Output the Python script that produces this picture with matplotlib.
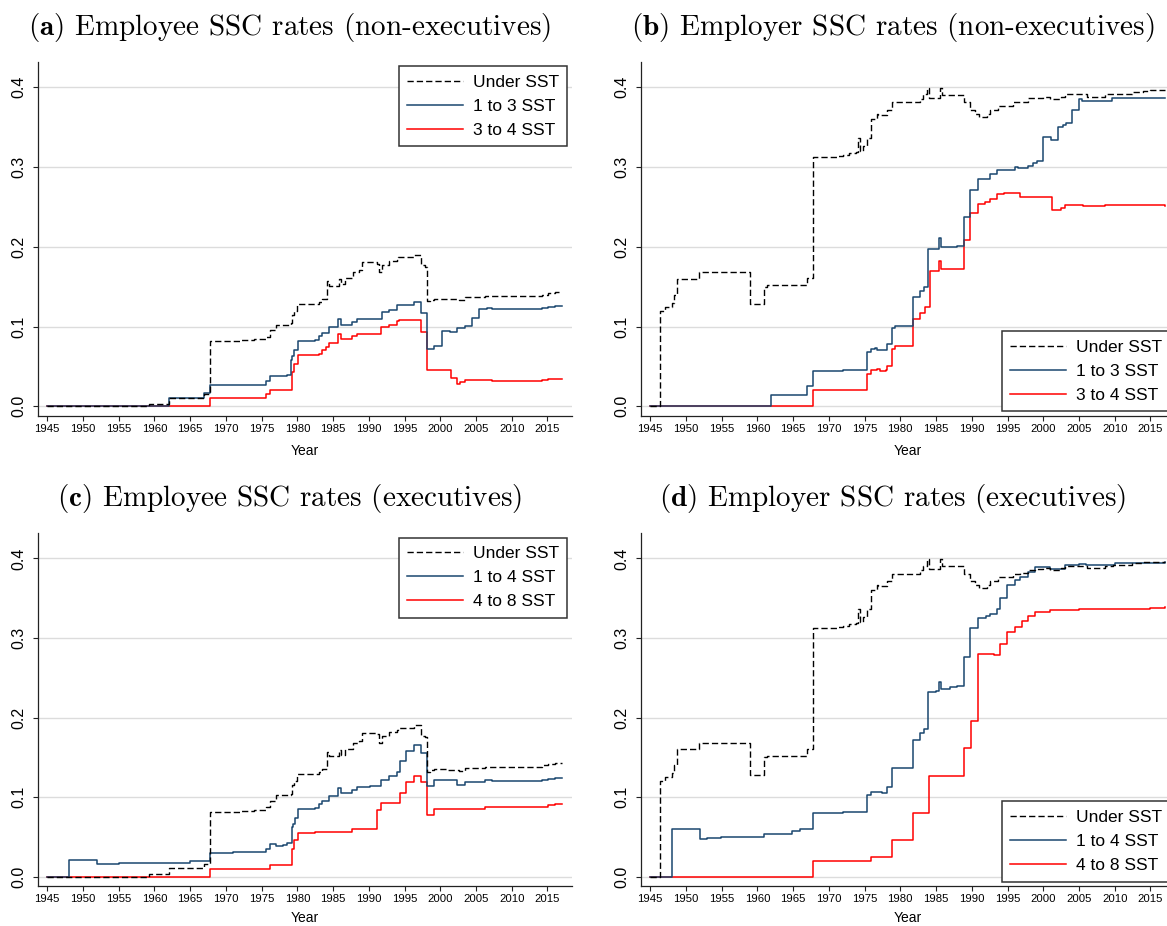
import matplotlib
matplotlib.use("Agg")
from matplotlib import pyplot as plt

plt.rcParams['font.family'] = ['Liberation Sans', 'DejaVu Sans']
plt.rcParams['mathtext.fontset'] = 'cm'

# ---- data (step changes by year) ----
# employee rate, under the social security threshold (same in a and c)
ee_under_years = [1945, 1959.3, 1962.1, 1966.9, 1967.8, 1972.0, 1974.0, 1975.6, 1976.2, 1977.0,
                  1979.1, 1979.3, 1979.6, 1979.9, 1983.0, 1983.5, 1984.1, 1984.4, 1985.8, 1986.1,
                  1986.6, 1987.8, 1988.6, 1989.1, 1991.2, 1991.4, 1991.9, 1992.8, 1993.9, 1994.1,
                  1996.3, 1997.3, 1997.8, 1998.2, 1998.6, 1999.1, 2001.0, 2002.6, 2003.4, 2006.3,
                  2014.2, 2015.1, 2016.0, 2017.0]
ee_under_vals = [0.0, 0.003, 0.0104, 0.0155, 0.0818, 0.083, 0.084, 0.087, 0.095, 0.102,
                 0.104, 0.115, 0.12, 0.1286, 0.131, 0.135, 0.1566, 0.151, 0.1595, 0.153,
                 0.161, 0.168, 0.171, 0.181, 0.179, 0.168, 0.177, 0.182, 0.184, 0.187,
                 0.19, 0.177, 0.175, 0.1315, 0.1336, 0.135, 0.134, 0.133, 0.137, 0.138,
                 0.14, 0.142, 0.143, 0.143]

# employer rate, under the threshold (same in b and d)
er_under_years = [1945, 1946.4, 1947.1, 1948.0, 1948.3, 1948.8, 1951.8, 1958.9, 1960.9, 1961.3,
                  1967.0, 1967.8, 1971.1, 1972.0, 1972.8, 1973.8, 1974.1, 1974.3, 1974.8, 1975.4,
                  1975.9, 1976.7, 1976.9, 1978.2, 1978.9, 1982.7, 1983.2, 1983.7, 1984.0, 1985.6,
                  1985.8, 1988.9, 1989.7, 1990.5, 1991.0, 1992.1, 1992.6, 1993.6, 1995.7, 1996.7,
                  1997.8, 1998.8, 1999.9, 2000.9, 2002.5, 2003.0, 2006.1, 2008.7, 2009.8, 2012.4,
                  2014.0, 2015.0, 2017.0]
er_under_vals = [0.0, 0.1198, 0.125, 0.13, 0.14, 0.16, 0.168, 0.128, 0.15, 0.152,
                 0.161, 0.312, 0.314, 0.315, 0.317, 0.319, 0.336, 0.32, 0.326, 0.336,
                 0.36, 0.367, 0.365, 0.372, 0.381, 0.385, 0.391, 0.399, 0.387, 0.399,
                 0.39, 0.381, 0.372, 0.367, 0.363, 0.367, 0.372, 0.377, 0.381, 0.382,
                 0.386, 0.387, 0.388, 0.385, 0.388, 0.391, 0.388, 0.391, 0.392, 0.394,
                 0.395, 0.396, 0.396]

# (a) employee, non-executives
ee_1to3_years = [1945, 1962.1, 1966.9, 1967.8, 1971.0, 1975.6, 1976.2, 1978.5, 1979.1, 1979.3,
                 1979.6, 1980.1, 1982.5, 1983.0, 1983.5, 1984.4, 1985.7, 1986.1, 1987.7, 1988.3,
                 1991.9, 1992.8, 1993.9, 1996.3, 1997.3, 1998.2, 1999.1, 2000.2, 2001.3, 2002.3,
                 2003.4, 2004.4, 2005.4, 2006.5, 2007.2, 2014.2, 2015.1, 2016.0, 2017.0]
ee_1to3_vals = [0.0, 0.0104, 0.017, 0.0263, 0.027, 0.032, 0.0376, 0.0388, 0.0585, 0.0626,
                0.071, 0.0814, 0.0827, 0.0877, 0.0919, 0.0994, 0.1094, 0.1023, 0.1054, 0.109,
                0.1177, 0.121, 0.1273, 0.1307, 0.117, 0.0722, 0.075, 0.0948, 0.093, 0.098,
                0.101, 0.111, 0.1219, 0.123, 0.122, 0.1236, 0.125, 0.1255, 0.1255]
ee_3to4_years = [1945, 1967.8, 1975.6, 1976.2, 1978.5, 1979.2, 1979.6, 1980.1, 1983.0, 1983.5,
                 1984.0, 1984.4, 1985.7, 1986.1, 1987.7, 1988.3, 1991.75, 1992.8, 1993.9, 1994.2,
                 1997.3, 1998.2, 2001.5, 2002.3, 2002.8, 2003.4, 2006.3, 2007.2, 2014.2, 2015.1,
                 2016.0, 2017.0]
ee_3to4_vals = [0.0, 0.01, 0.0155, 0.02, 0.021, 0.043, 0.053, 0.0639, 0.066, 0.07,
                0.074, 0.0797, 0.09, 0.0844, 0.0878, 0.09, 0.099, 0.1023, 0.1065, 0.108,
                0.0927, 0.045, 0.0355, 0.0284, 0.03, 0.0326, 0.033, 0.032, 0.033, 0.034,
                0.0345, 0.0345]

# (b) employer, non-executives
er_1to3_years = [1945, 1961.9, 1966.9, 1967.8, 1972.0, 1974.0, 1975.4, 1975.9, 1976.4, 1976.8,
                 1978.1, 1978.9, 1979.3, 1981.8, 1982.7, 1983.3, 1983.9, 1985.4, 1985.7, 1987.9,
                 1988.9, 1989.8, 1990.9, 1991.8, 1992.6, 1993.5, 1996.0, 1996.4, 1997.8, 1998.6,
                 1999.1, 1999.9, 2001.1, 2002.0, 2002.8, 2003.2, 2004.0, 2005.0, 2005.4, 2009.6,
                 2017.0]
er_1to3_vals = [0.0, 0.0146, 0.025, 0.0447, 0.045, 0.046, 0.0676, 0.072, 0.073, 0.071,
                0.078, 0.098, 0.101, 0.1365, 0.144, 0.15, 0.197, 0.211, 0.2, 0.201,
                0.237, 0.2706, 0.2848, 0.2855, 0.291, 0.2965, 0.3006, 0.299, 0.301, 0.305,
                0.308, 0.338, 0.334, 0.35, 0.353, 0.355, 0.371, 0.385, 0.383, 0.386,
                0.387]
er_3to4_years = [1945, 1967.8, 1975.4, 1975.9, 1976.7, 1977.2, 1978.0, 1978.2, 1978.9, 1979.3,
                 1981.8, 1982.7, 1983.4, 1984.1, 1985.4, 1985.7, 1988.9, 1989.8, 1990.9, 1991.8,
                 1992.6, 1993.5, 1994.5, 1996.7, 2000.9, 2001.2, 2002.5, 2003.0, 2005.6, 2006.9,
                 2008.7, 2012.0, 2017.0]
er_3to4_vals = [0.0, 0.02, 0.041, 0.046, 0.047, 0.0438, 0.046, 0.051, 0.072, 0.075,
                0.11, 0.117, 0.124, 0.169, 0.1816, 0.172, 0.208, 0.242, 0.254, 0.256,
                0.26, 0.266, 0.267, 0.263, 0.2622, 0.2463, 0.249, 0.2526, 0.251, 0.2505,
                0.2526, 0.252, 0.251]

# (c) employee, executives
ee_1to4_years = [1945, 1948.0, 1952.0, 1955.0, 1961.0, 1965.0, 1966.0, 1967.8, 1971.0, 1975.6,
                 1976.2, 1977.0, 1978.0, 1978.5, 1979.2, 1979.4, 1979.7, 1980.1, 1982.5, 1983.0,
                 1983.5, 1984.4, 1985.7, 1986.1, 1987.7, 1988.3, 1990.2, 1991.75, 1992.8, 1993.9,
                 1994.3, 1995.2, 1996.3, 1997.3, 1998.2, 1999.1, 2002.3, 2003.4, 2006.3, 2007.2,
                 2014.2, 2015.1, 2016.0, 2017.0]
ee_1to4_vals = [0.0, 0.0209, 0.0155, 0.017, 0.0176, 0.019, 0.0196, 0.030, 0.031, 0.035,
                0.0405, 0.039, 0.040, 0.042, 0.0627, 0.0656, 0.074, 0.0852, 0.0865, 0.0907,
                0.095, 0.101, 0.1116, 0.105, 0.1095, 0.1124, 0.1137, 0.122, 0.127, 0.131,
                0.145, 0.158, 0.165, 0.155, 0.1145, 0.121, 0.1157, 0.119, 0.121, 0.12,
                0.122, 0.123, 0.124, 0.124]
ee_4to8_years = [1945, 1967.8, 1976.2, 1979.2, 1979.6, 1980.1, 1982.5, 1987.7, 1991.2, 1991.75,
                 1994.3, 1995.2, 1996.3, 1997.3, 1998.2, 1999.1, 2006.3, 2014.2, 2015.1, 2016.0,
                 2017.0]
ee_4to8_vals = [0.0, 0.010, 0.015, 0.035, 0.0455, 0.055, 0.056, 0.060, 0.0835, 0.0928,
                0.105, 0.119, 0.126, 0.1187, 0.078, 0.0844, 0.0869, 0.088, 0.090, 0.0907,
                0.0907]

# (d) employer, executives
er_1to4_years = [1945, 1948.0, 1951.9, 1953.0, 1954.9, 1960.9, 1964.9, 1966.0, 1967.8, 1972.0,
                 1975.4, 1975.9, 1977.0, 1977.5, 1978.2, 1978.9, 1981.8, 1982.7, 1983.3, 1983.9,
                 1985.0, 1985.4, 1985.7, 1987.0, 1988.0, 1988.9, 1989.8, 1990.9, 1992.0, 1992.6,
                 1993.5, 1993.9, 1994.9, 1996.0, 1996.7, 1997.8, 1998.9, 2000.0, 2000.9, 2003.0,
                 2005.0, 2006.0, 2010.0, 2017.0]
er_1to4_vals = [0.0, 0.0602, 0.0468, 0.048, 0.050, 0.054, 0.057, 0.060, 0.080, 0.081,
                0.102, 0.1066, 0.106, 0.105, 0.1124, 0.1366, 0.172, 0.1805, 0.186, 0.2315,
                0.233, 0.245, 0.236, 0.238, 0.239, 0.2758, 0.313, 0.3247, 0.327, 0.330,
                0.336, 0.3505, 0.367, 0.373, 0.3766, 0.383, 0.389, 0.389, 0.387, 0.392,
                0.393, 0.392, 0.394, 0.395]
er_4to8_years = [1945, 1967.8, 1975.9, 1978.9, 1981.8, 1984.0, 1988.9, 1989.9, 1990.9, 1992.0,
                 1993.1, 1993.9, 1994.9, 1996.0, 1997.0, 1997.8, 1998.9, 2000.9, 2005.0, 2008.0,
                 2015.0, 2017.0]
er_4to8_vals = [0.0, 0.0196, 0.025, 0.0455, 0.080, 0.126, 0.1617, 0.196, 0.2795, 0.280,
                0.279, 0.293, 0.3077, 0.314, 0.321, 0.327, 0.333, 0.335, 0.336, 0.337,
                0.338, 0.339]

titles = [r'$\mathbf{(a)}$ Employee SSC rates (non-executives)',
          r'$\mathbf{(b)}$ Employer SSC rates (non-executives)',
          r'$\mathbf{(c)}$ Employee SSC rates (executives)',
          r'$\mathbf{(d)}$ Employer SSC rates (executives)']
labels_nonexec = ['Under SST', '1 to 3 SST', '3 to 4 SST']
labels_exec = ['Under SST', '1 to 4 SST', '4 to 8 SST']
year_ticks = list(range(1945, 2016, 5))
rate_ticks = [0.0, 0.1, 0.2, 0.3, 0.4]

NAVY = '#1a476f'
RED = '#ff0000'


def panel(ax, under, mid, top, labels, legend_loc, xpad):
    ax.step(under[0], under[1], where='post', color='black', lw=1.0,
            dashes=(4.5, 2.2), label=labels[0], zorder=4)
    ax.step(mid[0], mid[1], where='post', color=NAVY, lw=1.1, label=labels[1], zorder=3)
    ax.step(top[0], top[1], where='post', color=RED, lw=1.1, label=labels[2], zorder=2)

    ax.set_xlim(1943.66, 2018.4)
    ax.set_ylim(-0.0118, 0.4317)
    ax.set_xticks(year_ticks)
    ax.set_yticks(rate_ticks)
    ax.set_yticklabels(['%.1f' % t for t in rate_ticks])
    ax.grid(axis='y', color='#dcdcdc', lw=1.0)
    ax.set_axisbelow(True)
    for s in ['top', 'right']:
        ax.spines[s].set_visible(False)
    for s in ['left', 'bottom']:
        ax.spines[s].set_color('#222222')
        ax.spines[s].set_linewidth(0.9)
    ax.tick_params(axis='x', labelsize=8.2, length=3.5, width=0.8, pad=2.5, color='#222222')
    ax.tick_params(axis='y', labelsize=11.5, length=3.5, width=0.8, pad=4.5, color='#222222')
    for lab in ax.get_yticklabels():
        lab.set_rotation(90)
        lab.set_va('center')
    ax.set_xlabel('Year', fontsize=10, labelpad=xpad)

    h, l = ax.get_legend_handles_labels()
    leg = ax.legend(h, l, loc=legend_loc, fontsize=12.5, frameon=True, fancybox=False,
                    edgecolor='#333333', framealpha=1, borderaxespad=0.25, borderpad=0.5,
                    labelspacing=0.5, handlelength=3.2, handletextpad=0.55)
    leg.get_frame().set_linewidth(1.1)


fig = plt.figure(figsize=(11.67, 9.26), dpi=100)
ax_a = fig.add_axes([0.0323, 0.5511, 0.4576, 0.382])
ax_b = fig.add_axes([0.5490, 0.5511, 0.4576, 0.382])
ax_c = fig.add_axes([0.0323, 0.0432, 0.4576, 0.381])
ax_d = fig.add_axes([0.5490, 0.0432, 0.4576, 0.381])

panel(ax_a, (ee_under_years, ee_under_vals), (ee_1to3_years, ee_1to3_vals),
      (ee_3to4_years, ee_3to4_vals), labels_nonexec, 'upper right', 7)
panel(ax_b, (er_under_years, er_under_vals), (er_1to3_years, er_1to3_vals),
      (er_3to4_years, er_3to4_vals), labels_nonexec, 'lower right', 7)
panel(ax_c, (ee_under_years, ee_under_vals), (ee_1to4_years, ee_1to4_vals),
      (ee_4to8_years, ee_4to8_vals), labels_exec, 'upper right', 4.5)
panel(ax_d, (er_under_years, er_under_vals), (er_1to4_years, er_1to4_vals),
      (er_4to8_years, er_4to8_vals), labels_exec, 'lower right', 4.5)

title_pos = [(0.2485, 0.9698), (0.765, 0.9698), (0.2485, 0.4622), (0.765, 0.4622)]
for (x, y), t in zip(title_pos, titles):
    fig.text(x, y, t, family='cmr10', fontsize=21, ha='center', va='center')

fig.savefig('out.png', dpi=100)
